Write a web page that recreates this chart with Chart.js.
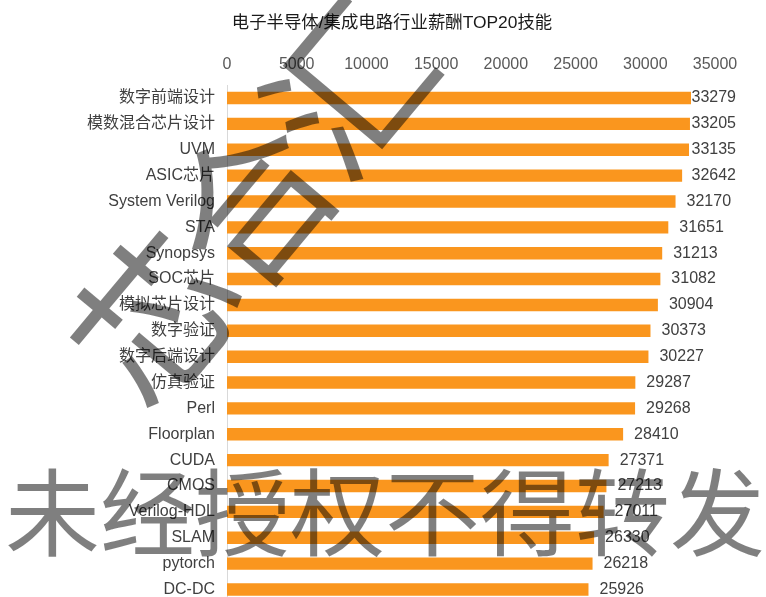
<!DOCTYPE html>
<html>
<head>
<meta charset="utf-8">
<script src="https://cdn.jsdelivr.net/npm/chart.js@4.4.1/dist/chart.umd.min.js"></script>
<style>
    html, body { margin: 0; padding: 0; background: #fff; overflow: hidden; }
    #wrap { position: relative; width: 766px; height: 624px; }
</style>
</head>
<body>
<div id="wrap"><canvas id="skillChart" width="766" height="624"></canvas></div>
<script>
const chartTitle = '电子半导体/集成电路行业薪酬TOP20技能';

const skills = [
    '数字前端设计', '模数混合芯片设计', 'UVM', 'ASIC芯片', 'System Verilog',
    'STA', 'Synopsys', 'SOC芯片', '模拟芯片设计', '数字验证',
    '数字后端设计', '仿真验证', 'Perl', 'Floorplan', 'CUDA',
    'CMOS', 'Verilog-HDL', 'SLAM', 'pytorch', 'DC-DC'
];

const salaries = [
    33279, 33205, 33135, 32642, 32170,
    31651, 31213, 31082, 30904, 30373,
    30227, 29287, 29268, 28410, 27371,
    27213, 27011, 26330, 26218, 25926
];

const axisMax = 35000;
const axisStep = 5000;

const markText = '芯合汇';
const bannerText = '未经授权不得转发';

const FONT = "'Liberation Sans', 'Noto Sans CJK SC', sans-serif";
const BAR_COLOR = '#FA961E';

// numbers after each bar, kept inside the right margin
const valueLabels = {
    id: 'valueLabels',
    afterDatasetsDraw(chart) {
        const ctx = chart.ctx;
        const meta = chart.getDatasetMeta(0);
        const limit = chart.chartArea.right + 21;
        ctx.save();
        ctx.font = '16px ' + FONT;
        ctx.fillStyle = '#404040';
        ctx.textAlign = 'left';
        ctx.textBaseline = 'middle';
        meta.data.forEach((bar, i) => {
            const text = String(salaries[i]);
            const w = ctx.measureText(text).width;
            const x = Math.min(bar.x + 11, limit - w);
            ctx.fillText(text, x, bar.y);
        });
        ctx.restore();
    }
};

// grey overlay text drawn over everything
const overlayText = {
    id: 'overlayText',
    afterDraw(chart) {
        const ctx = chart.ctx;
        ctx.save();
        ctx.fillStyle = 'rgba(0, 0, 0, 0.5)';

        ctx.save();
        ctx.translate(155, 318);
        ctx.rotate(-50 * Math.PI / 180);
        ctx.font = "160px 'Noto Sans CJK SC'";
        ctx.textAlign = 'center';
        ctx.textBaseline = 'middle';
        [...markText].forEach((ch, i) => ctx.fillText(ch, i * 150, 0));
        ctx.restore();

        ctx.font = "95px 'Noto Sans CJK SC'";
        ctx.textAlign = 'center';
        ctx.textBaseline = 'middle';
        ctx.fillText(bannerText, 385, 513);
        ctx.restore();
    }
};

new Chart(document.getElementById('skillChart'), {
    type: 'bar',
    data: {
        labels: skills,
        datasets: [{
            data: salaries,
            backgroundColor: BAR_COLOR,
            borderWidth: 0,
            barPercentage: 0.48,
            categoryPercentage: 1
        }]
    },
    options: {
        indexAxis: 'y',
        responsive: false,
        animation: false,
        layout: { padding: { left: 69, right: 51, top: 0, bottom: 0 } },
        scales: {
            x: {
                position: 'top',
                min: 0,
                max: axisMax,
                ticks: {
                    stepSize: axisStep,
                    color: '#595959',
                    padding: 11,
                    font: { family: FONT, size: 16 },
                    callback: (v) => String(v)
                },
                grid: { display: false, drawTicks: false },
                border: { display: false }
            },
            y: {
                ticks: {
                    color: '#404040',
                    padding: 12,
                    autoSkip: false,
                    font: { family: FONT, size: 16 }
                },
                grid: { display: false, drawTicks: false },
                border: { display: true, color: '#d9d9d9', width: 1 },
                afterFit(scale) { scale.width = 158; }
            }
        },
        plugins: {
            legend: { display: false },
            tooltip: { enabled: false },
            title: {
                display: true,
                text: chartTitle,
                color: '#1a1a1a',
                font: { family: FONT, size: 17.4, weight: 'normal' },
                padding: { top: 13, bottom: 10 }
            }
        }
    },
    plugins: [valueLabels, overlayText]
});
</script>
</body>
</html>
